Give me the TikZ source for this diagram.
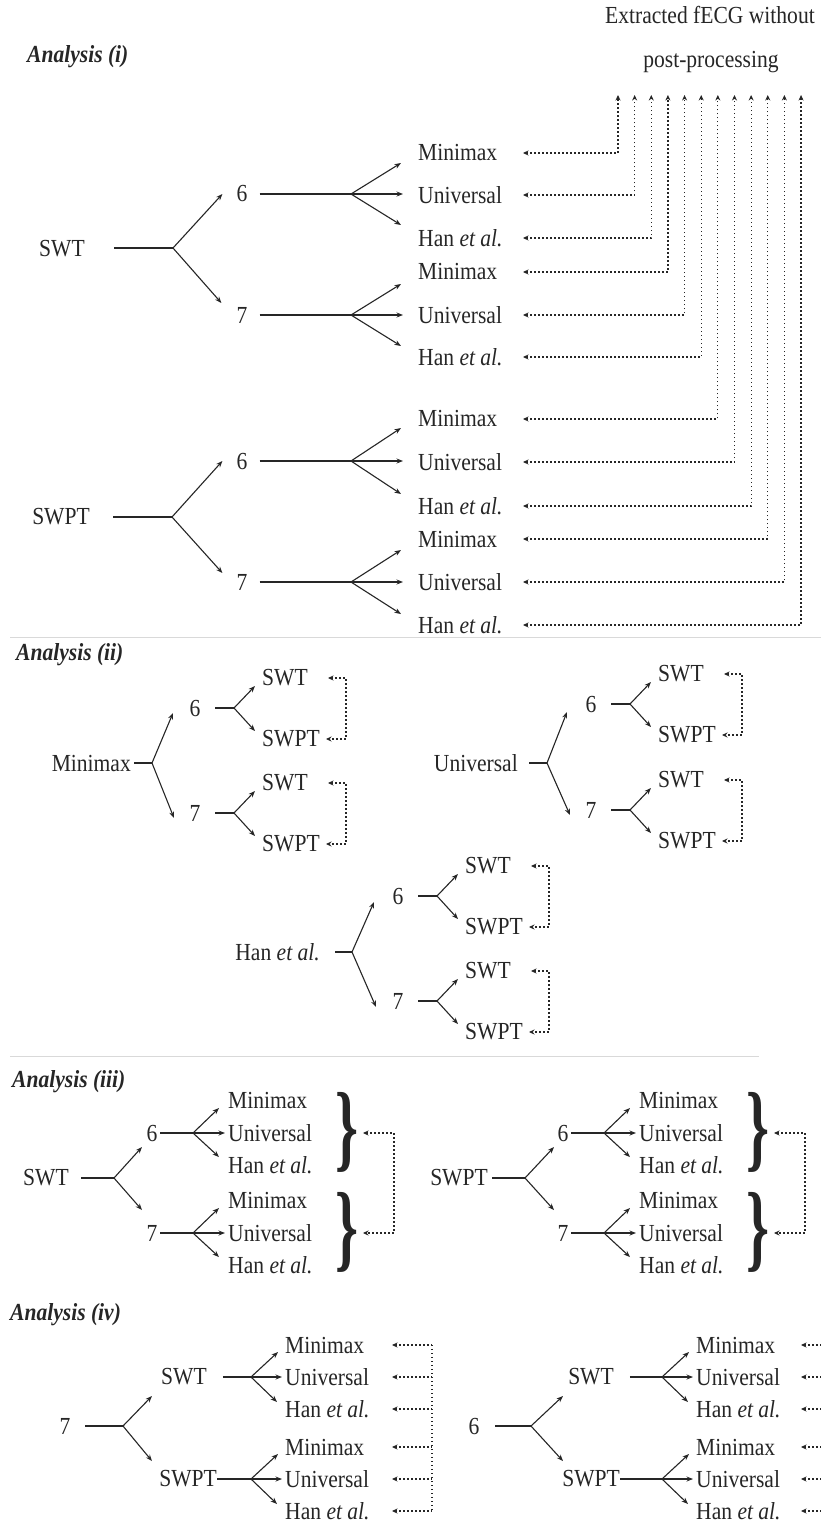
\documentclass[tikz,border=0pt]{standalone}
\usepackage{fontspec}
\setmainfont{Liberation Serif}[FakeStretch=0.88]
\usetikzlibrary{arrows.meta,calc}
\definecolor{ink}{gray}{0.15}
\newcommand\fs{\fontsize{24.5}{28}\selectfont}
\newcommand\bigbrace{\resizebox*{23pt}{80pt}{\textbf{\}}}}
\newcommand\etal{Han \textit{et al.}}
% Analysis (i) fan
\newcommand\fanI[4]{%
  \node[lbl] (#1) at (242,#3) {#2};
  \coordinate (#1b) at (351,#3);
  \draw[ln] ([xshift=12pt]#1.east) -- (#1b);
  \draw[arr] (#1b) -- ++(50,-#4);
  \draw[arr] (#1b) -- ++(52,0);
  \draw[arr] (#1b) -- ++(50,#4);
}
% Analysis (ii) sub block
\newcommand\subII[4]{%
  \node[lbl] (#1) at (#2,#3) {#4};
  \path (#2,#3) ++(20,0) coordinate (#1a) ++(19,0) coordinate (#1b);
  \draw[ln] (#1a) -- (#1b);
  \draw[arr] (#1b) -- ++(21,-22);
  \draw[arr] (#1b) -- ++(21,23);
  \path (#2,#3) ++(67,-30) node[lbl,anchor=west] (#1s) {SWT};
  \path (#2,#3) ++(67,31) node[lbl,anchor=west] (#1p) {SWPT};
  \draw[dotarr] ($(#2,#3)+(133,-30)$) -- ($(#2,#3)+(151,-30)$) -- ($(#2,#3)+(151,31)$) -- ($(#2,#3)+(131,31)$);
}
% Analysis (iii) fan
\newcommand\fanIII[4]{%
  \node[lbl] (#1) at (#2,#3) {#4};
  \path (#2,#3) ++(8,0) coordinate (#1a) ++(33,0) coordinate (#1b);
  \draw[ln] (#1a) -- (#1b);
  \draw[arr] (#1b) -- ++(26,-25);
  \draw[arr] (#1b) -- ++(32,0);
  \draw[arr] (#1b) -- ++(26,24);
  \path (#2,#3) ++(76,-33) node[lbl,anchor=west] (#1m) {Minimax};
  \path (#2,#3) ++(76,0) node[lbl,anchor=west] (#1u) {Universal};
  \path (#2,#3) ++(76,32) node[lbl,anchor=west] (#1h) {\etal};
  \path (#2,#3) ++(195,-1) node[inner sep=0pt,text=ink] (#1br) {\bigbrace};
  \path (#2,#3) ++(211,0) coordinate (#1d);
}
% Analysis (iv) fan
\newcommand\fanIV[4]{% name, branch x, y, text x
  \coordinate (#1b) at (#2,#3);
  \draw[arr] (#1b) -- ++(27,-25);
  \draw[arr] (#1b) -- ++(31,0);
  \draw[arr] (#1b) -- ++(26,25);
  \node[lbl,anchor=west] (#1m) at (#4,#3-32) {Minimax};
  \node[lbl,anchor=west] (#1u) at (#4,#3) {Universal};
  \node[lbl,anchor=west] (#1h) at (#4,#3+32) {\etal};
}
\begin{document}
\begin{tikzpicture}[x=1pt,y=-1pt,
  lbl/.style={inner sep=0pt, font=\fs, text=ink},
  hd/.style={inner sep=0pt, anchor=west, font=\fs\bfseries\itshape, text=ink},
  ln/.style={line width=1.1pt, draw=ink},
  arr/.style={ln, -{Stealth[length=6.5pt,width=5pt]}},
  dots/.style={line width=1.2pt, draw=ink, dash pattern=on 1.2pt off 2.8pt},
  dotarr/.style={dots, {Stealth[length=5.5pt,width=5pt]}-{Stealth[length=5.5pt,width=5pt]}},
  dotl/.style={dots, {Stealth[length=5.5pt,width=5pt]}-},
  sep/.style={draw=black!15, line width=1pt}]
\fill[white] (0,0) rectangle (821,1524);
\useasboundingbox (0,0) rectangle (821,1524);

% ---------------- Analysis (i)
\node[hd] (h1) at (27,57) {Analysis (i)};
\node[lbl, anchor=base] (t1) at (710,23) {Extracted fECG without};
\node[lbl, anchor=base] (t2) at (711,67) {post-processing};

\node[lbl] (aswt) at (62,249) {SWT};
\coordinate (aswtA) at (114,248);
\coordinate (aswtB) at (173,248);
\draw[ln] (aswtA) -- (aswtB);
\fanI{a6}{6}{194}{31}
\fanI{a7}{7}{315}{31}
\draw[arr] (aswtB) -- ([xshift=-14pt]a6.west);
\draw[arr] (aswtB) -- ([xshift=-15pt,yshift=12pt]a7.west);

\node[lbl] (bswpt) at (61,517) {SWPT};
\coordinate (bswptA) at (113,517);
\coordinate (bswptB) at (172,517);
\draw[ln] (bswptA) -- (bswptB);
\fanI{b6}{6}{461}{33}
\fanI{b7}{7}{582}{32}
\draw[arr] (bswptB) -- ([xshift=-14pt]b6.west);
\draw[arr] (bswptB) -- ([xshift=-14pt,yshift=9pt]b7.west);

\foreach \y/\t [count=\i] in {153/Minimax,195/Universal,238/\etal,272/Minimax,315/Universal,357/\etal,419/Minimax,462/Universal,506/\etal,539/Minimax,582/Universal,625/\etal}{
  \node[lbl,anchor=west] (ir\i) at (418,\y) {\t};
  \coordinate (ie\i) at (523,\y);
  \coordinate (ic\i) at ({618+(\i-1)*16.64},\y);
  \coordinate (it\i) at ({618+(\i-1)*16.64},95);
  \draw[dotarr] (ie\i) -- (ic\i) -- (it\i);
}
\draw[sep] (10,637) -- (821,637);

% ---------------- Analysis (ii)
\node[hd] (h2) at (16,655) {Analysis (ii)};
% Minimax
\node[lbl,anchor=east] (mm) at (131,763) {Minimax};
\coordinate (mmA) at (134,763); \coordinate (mmB) at (152,763);
\draw[ln] (mmA) -- (mmB);
\draw[arr] (mmB) -- ++(21,-50);
\draw[arr] (mmB) -- ++(22,55);
\subII{mm6}{195}{708}{6}
\subII{mm7}{195}{813}{7}
% Universal
\node[lbl,anchor=east] (un) at (518,763) {Universal};
\coordinate (unA) at (529,763); \coordinate (unB) at (547,763);
\draw[ln] (unA) -- (unB);
\draw[arr] (unB) -- ++(20,-51);
\draw[arr] (unB) -- ++(23,52);
\subII{un6}{591}{704}{6}
\subII{un7}{591}{810}{7}
% Han et al.
\node[lbl,anchor=east] (ha) at (320,952) {\etal};
\coordinate (haA) at (335,952); \coordinate (haB) at (352,952);
\draw[ln] (haA) -- (haB);
\draw[arr] (haB) -- ++(22,-50);
\draw[arr] (haB) -- ++(24,55);
\subII{ha6}{398}{896}{6}
\subII{ha7}{398}{1001}{7}
\draw[sep] (10,1056) -- (759,1056);

% ---------------- Analysis (iii)
\node[hd] (h3) at (12,1082) {Analysis (iii)};
\node[lbl] (cswt) at (46,1178) {SWT};
\coordinate (cswtA) at (81,1178); \coordinate (cswtB) at (114,1178);
\draw[ln] (cswtA) -- (cswtB);
\draw[arr] (cswtB) -- ++(28,-31);
\draw[arr] (cswtB) -- ++(28,32);
\fanIII{c6}{152}{1133}{6}
\fanIII{c7}{152}{1233}{7}
\draw[dotarr] (c6d) -- ++(31,0) -- ($(c7d)+(31,0)$) -- (c7d);

\node[lbl] (dswpt) at (459,1178) {SWPT};
\coordinate (dswptA) at (492,1178); \coordinate (dswptB) at (525,1178);
\draw[ln] (dswptA) -- (dswptB);
\draw[arr] (dswptB) -- ++(29,-31);
\draw[arr] (dswptB) -- ++(29,32);
\fanIII{d6}{563}{1133}{6}
\fanIII{d7}{563}{1233}{7}
\draw[dotarr] (d6d) -- ++(31,0) -- ($(d7d)+(31,0)$) -- (d7d);

% ---------------- Analysis (iv)
\node[hd] (h4) at (10,1315) {Analysis (iv)};
% left tree
\node[lbl] (e7) at (65,1426) {7};
\coordinate (e7A) at (85,1426); \coordinate (e7B) at (123,1426);
\draw[ln] (e7A) -- (e7B);
\draw[arr] (e7B) -- ++(29,-30);
\draw[arr] (e7B) -- ++(29,35);
\node[lbl] (eswt) at (184,1377) {SWT};
\node[lbl,anchor=east] (eswpt) at (217,1479) {SWPT};
\fanIV{es}{251}{1377}{285}
\fanIV{ep}{251}{1479}{285}
\draw[ln] ([xshift=16pt]eswt.east) -- (esb);
\draw[ln] (eswpt.east) -- (epb);
\foreach \n/\yy in {esm/1345,esu/1377,esh/1409,epm/1447,epu/1479,eph/1511}{
  \coordinate (\n e) at (392,\yy);
  \coordinate (\n c) at (432,\yy);
  \draw[dotl] (\n e) -- (\n c);
}
\draw[dots] (esmc) -- (ephc);
% right tree
\node[lbl] (f6) at (474,1426) {6};
\coordinate (f6A) at (495,1426); \coordinate (f6B) at (531,1426);
\draw[ln] (f6A) -- (f6B);
\draw[arr] (f6B) -- ++(32,-30);
\draw[arr] (f6B) -- ++(32,35);
\node[lbl] (fswt) at (591,1377) {SWT};
\node[lbl,anchor=east] (fswpt) at (620,1479) {SWPT};
\fanIV{fs}{662}{1377}{696}
\fanIV{fp}{662}{1479}{696}
\draw[ln] ([xshift=16pt]fswt.east) -- (fsb);
\draw[ln] (fswpt.east) -- (fpb);
\foreach \n/\yy in {fsm/1345,fsu/1377,fsh/1409,fpm/1447,fpu/1479,fph/1511}{
  \coordinate (\n e) at (801,\yy);
  \coordinate (\n c) at (830,\yy);
  \draw[dotl] (\n e) -- (\n c);
}
\end{tikzpicture}
\end{document}
